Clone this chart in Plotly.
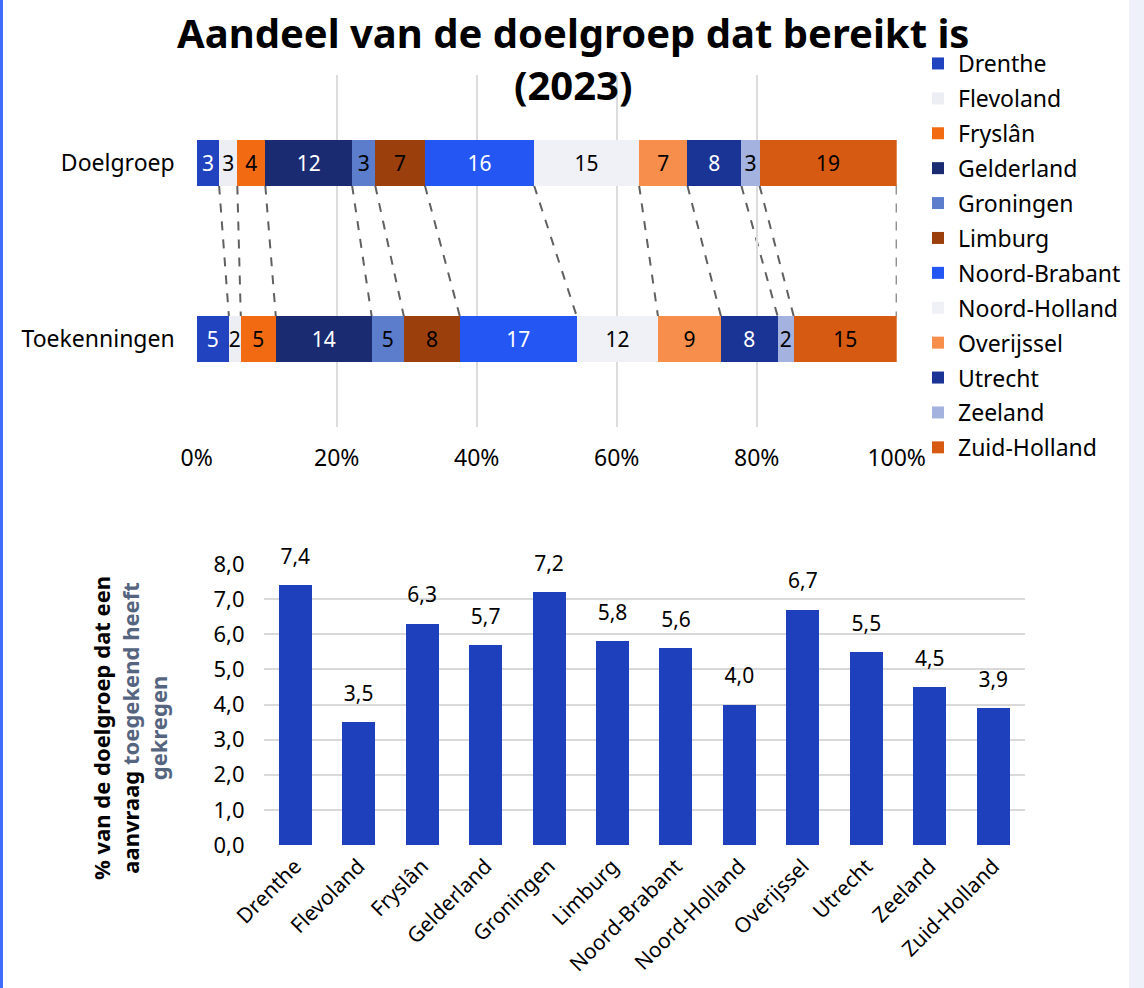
import plotly.graph_objects as go
import numpy as np

# ---------------- data ----------------
provinces = ["Drenthe", "Flevoland", "Fryslân", "Gelderland", "Groningen", "Limburg",
             "Noord-Brabant", "Noord-Holland", "Overijssel", "Utrecht", "Zeeland", "Zuid-Holland"]
stack_rows = ["Doelgroep", "Toekenningen"]
doelgroep_share = [3.2, 2.6, 4.0, 12.4, 3.3, 7.1, 15.6, 15.0, 6.9, 7.7, 2.6, 19.6]
toekenning_share = [4.6, 1.7, 5.0, 13.7, 4.6, 8.0, 16.7, 11.6, 9.0, 8.1, 2.3, 14.7]
doelgroep_labels = ["3", "3", "4", "12", "3", "7", "16", "15", "7", "8", "3", "19"]
toekenning_labels = ["5", "2", "5", "14", "5", "8", "17", "12", "9", "8", "2", "15"]
pct_reached = [7.4, 3.5, 6.3, 5.7, 7.2, 5.8, 5.6, 4.0, 6.7, 5.5, 4.5, 3.9]
x_ticks_pct = [0, 20, 40, 60, 80, 100]

# ---------------- styles ----------------
seg_colors = ["#2143c0", "#eceef4", "#f26b12", "#1b2b72", "#5b7dcc", "#9b3f0c",
              "#2356f2", "#eff1f7", "#f88e4c", "#1a3496", "#a3b2de", "#d65a12"]
txt_colors = ["white", "black", "black", "white", "black", "black",
              "white", "black", "black", "white", "black", "black"]
FONT = "Noto Sans"
W, H = 1144, 988

def px_x(p):
    return p / W

def px_y(p):
    return 1 - p / H

fig = go.Figure()

bar_w = 0.256
for i, prov in enumerate(provinces):
    fig.add_trace(go.Bar(
        orientation="h",
        y=stack_rows,
        x=[doelgroep_share[i], toekenning_share[i]],
        name=prov,
        legendgroup=prov,
        width=bar_w,
        marker=dict(color=seg_colors[i], line=dict(width=0)),
        text=[doelgroep_labels[i], toekenning_labels[i]],
        textposition="inside",
        insidetextanchor="middle",
        textangle=0,
        constraintext="none",
        textfont=dict(color=txt_colors[i], size=21, family=FONT),
        hoverinfo="skip",
        xaxis="x", yaxis="y",
    ))

# bottom chart
fig.add_trace(go.Bar(
    x=provinces, y=pct_reached,
    width=0.52,
    marker=dict(color="#1f40bd", line=dict(width=0)),
    showlegend=False,
    hoverinfo="skip",
    xaxis="x2", yaxis="y2",
))
# value labels above the bars (invisible markers give the label offset)
fig.add_trace(go.Scatter(
    x=provinces, y=pct_reached,
    mode="markers+text",
    marker=dict(size=24, opacity=0),
    texttemplate="%{y:.1f}",
    textposition="top center",
    textfont=dict(color="black", size=21, family=FONT),
    cliponaxis=False,
    showlegend=False,
    hoverinfo="skip",
    xaxis="x2", yaxis="y2",
))

# dashed connector lines between the stacked segments
cum_d = np.cumsum(doelgroep_share)
cum_t = np.cumsum(toekenning_share)
shapes = []
for a, b in zip(cum_d, cum_t):
    shapes.append(dict(type="line", xref="x", yref="y",
                       x0=float(a), y0=bar_w / 2, x1=float(b), y1=1 - bar_w / 2,
                       line=dict(color="#606060", width=2, dash="dash"), layer="below"))

# page decoration: left blue border & right light panel
shapes.append(dict(type="rect", xref="paper", yref="paper", x0=0, x1=px_x(3), y0=0, y1=1,
                   fillcolor="#3f6bfb", line=dict(width=0), layer="below"))
shapes.append(dict(type="rect", xref="paper", yref="paper", x0=px_x(1129), x1=1, y0=0, y1=1,
                   fillcolor="#eef1fa", line=dict(width=0), layer="below"))

fig.update_layout(
    width=W, height=H,
    margin=dict(l=0, r=0, t=0, b=0),
    paper_bgcolor="white", plot_bgcolor="rgba(0,0,0,0)",
    barmode="stack",
    separators=",.",
    font=dict(family=FONT, size=20, color="black"),
    showlegend=True,
    legend=dict(x=px_x(918), y=px_y(42), xanchor="left", yanchor="top",
                font=dict(family=FONT, size=23, color="black"),
                traceorder="grouped", tracegroupgap=2,
                bgcolor="rgba(0,0,0,0)", itemclick=False),
    xaxis=dict(domain=[px_x(196.7), px_x(896.7)], range=[0, 100],
               tickvals=x_ticks_pct, ticktext=[f"{v}%" for v in x_ticks_pct],
               showgrid=True, gridcolor="#dcdcdc", gridwidth=2,
               zeroline=False, showline=False, ticks="",
               ticklabelstandoff=15, automargin=False,
               tickfont=dict(size=23, family=FONT), anchor="y"),
    yaxis=dict(domain=[px_y(427), px_y(75)], range=[1.5, -0.5],
               type="category", showgrid=False, zeroline=False, showline=False,
               ticks="", ticklabelstandoff=21, automargin=False,
               tickfont=dict(size=23, family=FONT), anchor="x"),
    xaxis2=dict(domain=[px_x(263.5), px_x(1025)], type="category",
                range=[-0.5, len(provinces) - 0.5],
                showgrid=False, zeroline=False, showline=False, ticks="",
                tickangle=-45, automargin=False, ticklabelstandoff=4,
                tickfont=dict(size=21, family=FONT), anchor="y2"),
    yaxis2=dict(domain=[px_y(845), px_y(564)], range=[0, 8], dtick=1,
                tickformat=".1f", showgrid=True, gridcolor="#d9d9d9", gridwidth=2,
                zeroline=False, showline=False, ticks="", ticklabelstandoff=18,
                automargin=False, tickfont=dict(size=22, family=FONT), anchor="x2"),
    shapes=shapes,
    annotations=[
        dict(text="<b>Aandeel van de doelgroep dat bereikt is<br>(2023)</b>",
             xref="paper", yref="paper", x=px_x(573), y=px_y(3),
             xanchor="center", yanchor="top", showarrow=False,
             font=dict(family=FONT, size=40, color="black")),
        dict(text=("<b>% van de doelgroep dat een<br>aanvraag "
                   "<span style='color:#56657f'>toegekend heeft</span><br>"
                   "<span style='color:#56657f'>gekregen</span></b>"),
             xref="paper", yref="paper", x=px_x(129), y=px_y(728),
             xanchor="center", yanchor="middle", textangle=-90, showarrow=False,
             font=dict(family=FONT, size=22, color="black")),
    ],
)

fig.write_html(
    "out.html",
    config={"displayModeBar": False},
    post_script="document.documentElement.style.margin='0';document.body.style.margin='0';"
                "document.body.style.overflow='hidden';",
)
